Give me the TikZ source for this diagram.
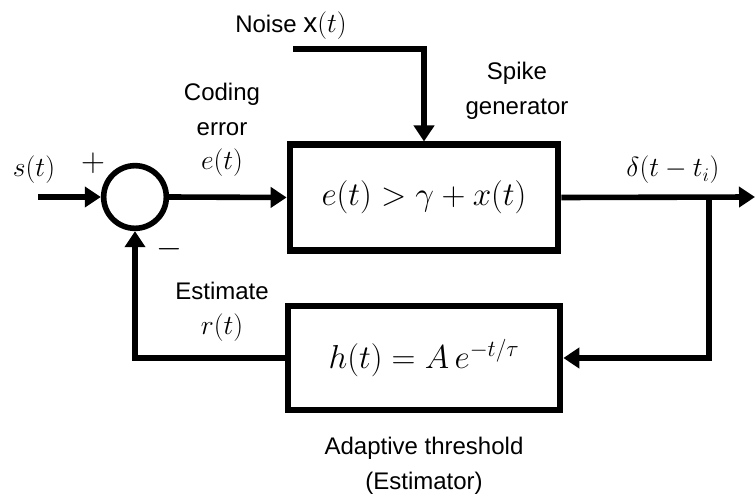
\documentclass[tikz,border=0pt]{standalone}
\usepackage{fontspec}
\setmainfont{Liberation Sans}
\usetikzlibrary{arrows.meta,positioning}
\begin{document}
\begin{tikzpicture}[x=0.75pt,y=-0.75pt]
  % Styling
  \tikzset{
    block/.style={
      rectangle,
      minimum width=201pt,
      minimum height=79pt,
      draw=black,
      line width=5pt,
      font=\fontsize{25}{28}\selectfont
    },
    sumnode/.style={
      circle,
      minimum size=47pt,
      draw=black,
      line width=4.2pt
    },
    arrow/.style={
      -{Triangle[length=12pt,width=15pt]},
      line width=4.2pt,
      black
    },
    label/.style={
      font=\fontsize{18}{26}\selectfont,
      align=center,
      inner sep=0pt,
      black
    },
    mathLabel/.style={
      font=\fontsize{21}{24}\selectfont,
      inner sep=0pt,
      black
    }
  }
  \useasboundingbox (0,0) rectangle (756,502);

  % ===== Blocks =====
  \node[sumnode] (sum) at (135,197) {};
  \node[block] (gen) at (424,197.5) {$e(t) > \gamma + x(t)$};
  \node[block, minimum width=204pt, minimum height=78pt] (est) at (424,358) {$h(t) = A\,e^{-t/\tau}$};

  % End points
  \coordinate (in) at (38,197);
  \coordinate (nz) at (293,49);
  \coordinate (out) at (755,197);
  \coordinate (br) at (709,197);

  % ===== Labels =====
  \node[label] (noise) at (291,26) {Noise {\fontsize{21}{24}\selectfont x$(t)$}};
  \node[label] (coding) at (222,130) {Coding\\error\\\fontsize{21}{26}\selectfont$e(t)$};
  \node[label] (spike) at (517,91) {Spike\\generator};
  \node[mathLabel] (sig) at (34,170) {$s(t)$};
  \node[mathLabel, font=\fontsize{26}{28}\selectfont] (plus) at (93,163) {$+$};
  \node[mathLabel, font=\fontsize{26}{28}\selectfont] (minus) at (169,249) {$-$};
  \node[mathLabel] (delta) at (673,170) {$\delta(t - t_i)$};
  \node[label] (estimate) at (222,312) {Estimate\\\fontsize{21}{26}\selectfont$r(t)$};
  \node[label] (adapt) at (424,466) {Adaptive threshold\\(Estimator)};

  % ===== Connectors =====
  \draw[arrow] (in) -- (sum.west);
  \draw[arrow] (sum.east) -- (gen.west);
  \draw[arrow] (nz) -- (gen.north |- nz) -- (gen.north);
  \draw[arrow] (gen.east) -- (out);
  \draw[arrow] (br) |- (est.east);
  \draw[arrow] (est.west) -| (sum.south);

\end{tikzpicture}
\end{document}
